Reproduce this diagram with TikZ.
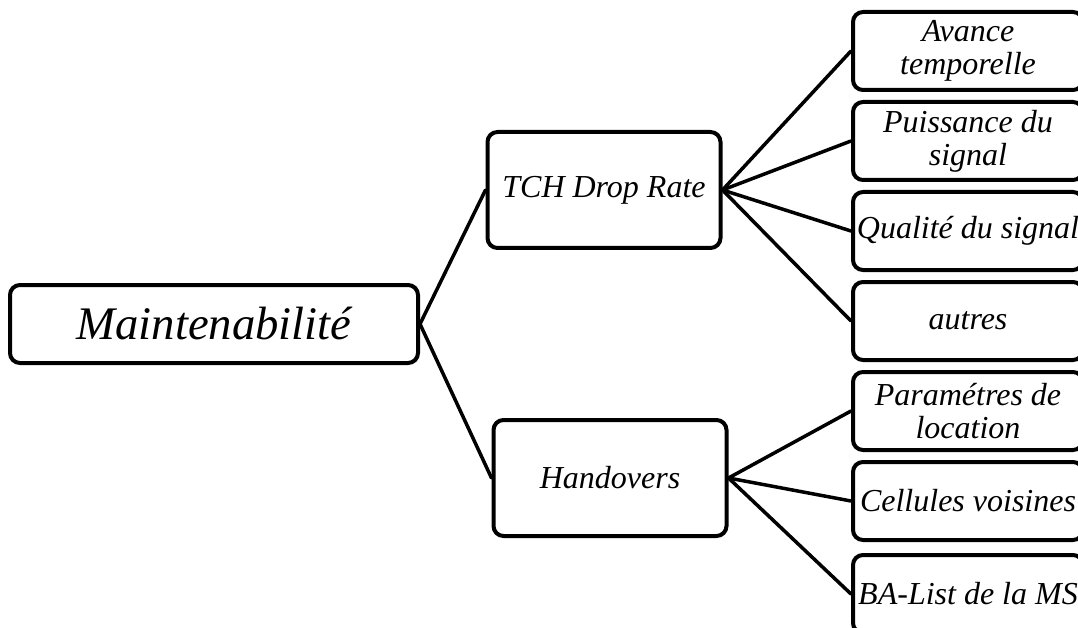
\documentclass[tikz,border=0pt]{standalone}
\usepackage{fontspec}
\setmainfont{Liberation Serif}
\begin{document}
\begin{tikzpicture}[x=1pt,y=-1pt,
  box/.style={draw=black, line width=4pt, rounded corners=10pt, fill=white,
    align=center, inner sep=0pt, font=\itshape\fontsize{32}{33}\selectfont},
  leaf/.style={box, minimum width=230pt, minimum height=78pt},
  mid/.style={box, minimum width=233pt, minimum height=116pt},
  link/.style={line width=3.5pt, line cap=round}]
\useasboundingbox (0,0) rectangle (1078,628);
\clip (0,0) rectangle (1078,628);

% root
\node[box, minimum width=408pt, minimum height=78pt,
      font=\itshape\fontsize{46.7}{50}\selectfont] (root) at (214,324) {Maintenabilité};

% second level
\node[mid] (tch) at (604,190) {TCH Drop Rate};
\node[mid] (ho)  at (610,478) {Handovers};

% leaves
\node[leaf] (l1) at (968,51)  {Avance\\temporelle};
\node[leaf] (l2) at (968,141) {Puissance du\\signal};
\node[leaf] (l3) at (968,231) {Qualité du signal};
\node[leaf] (l4) at (968,321) {autres};
\node[leaf] (l5) at (968,411) {Paramétres de\\location};
\node[leaf] (l6) at (968,501) {Cellules voisines};
\node[leaf] (l7) at (968,594) {BA-List de la MS};

% connectors
\draw[link] (root.east) -- (tch.west);
\draw[link] (root.east) -- (ho.west);
\foreach \n in {l1,l2,l3,l4}
  \draw[link] (tch.east) -- (\n.west);
\foreach \n in {l5,l6,l7}
  \draw[link] (ho.east) -- (\n.west);
\end{tikzpicture}
\end{document}
